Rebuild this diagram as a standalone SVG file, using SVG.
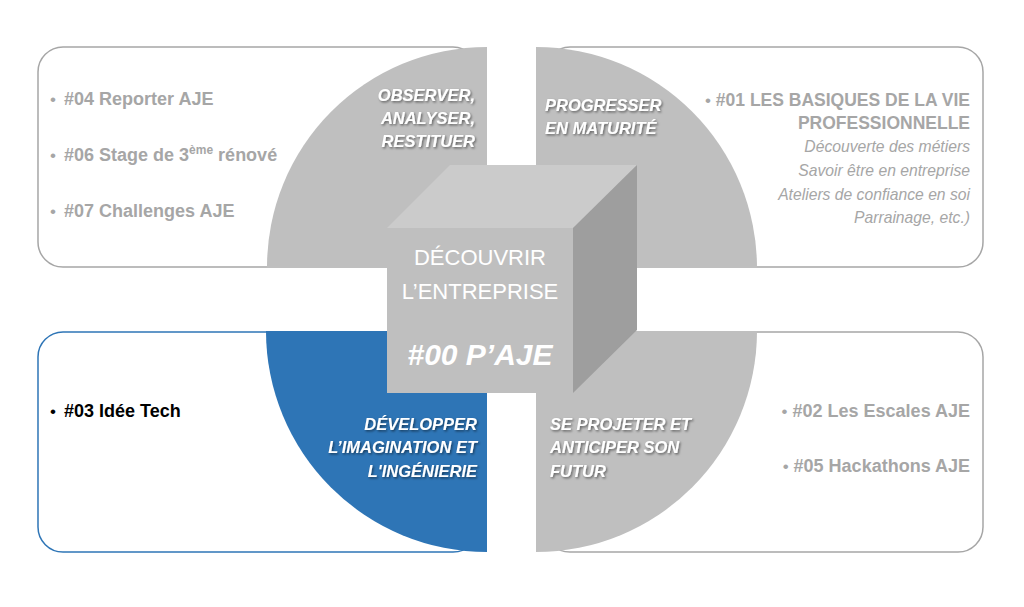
<svg xmlns="http://www.w3.org/2000/svg" width="1024" height="607" viewBox="0 0 1024 607">
<defs>
<filter id="sh" x="-10%" y="-30%" width="130%" height="180%">
<feDropShadow dx="1.2" dy="1.4" stdDeviation="0.8" flood-color="#000" flood-opacity="0.5"/>
</filter>
<style>
.box{fill:#fff;stroke:#A6A6A6;stroke-width:1.5}
.boxb{fill:#fff;stroke:#2E75B6;stroke-width:1.5}
.sec{fill:#BFBFBF}
.secb{fill:#2E75B6}
.item{font-family:"Liberation Sans",Arial,sans-serif;font-weight:bold;font-size:18px;fill:#A6A6A6}
.sub{font-family:"Liberation Sans",Arial,sans-serif;font-style:italic;font-size:15.7px;fill:#A6A6A6}
.lab{font-family:"Liberation Sans",Arial,sans-serif;font-weight:bold;font-style:italic;font-size:16.5px;fill:#fff;filter:url(#sh)}
.cube{font-family:"Liberation Sans",Arial,sans-serif;font-size:22px;fill:#fff;text-anchor:middle}
.bul{font-size:17px;font-weight:normal}
</style>
</defs>
<rect width="1024" height="607" fill="#fff"/>

<g id="box-tl"><rect class="box" x="38" y="47" width="440" height="220" rx="25"/></g>
<g id="box-tr"><rect class="box" x="545" y="47" width="438" height="220" rx="25"/></g>
<g id="box-bl"><rect class="boxb" x="38" y="332" width="440" height="220" rx="25"/></g>
<g id="box-br"><rect class="box" x="545" y="332" width="438" height="220" rx="25"/></g>

<g id="sector-tl">
<path class="sec" d="M487,268 L267,268 A220,220 0 0 1 487,47 Z"/>
<text class="lab" text-anchor="end"><tspan x="475" y="101">OBSERVER,</tspan><tspan x="475" y="124">ANALYSER,</tspan><tspan x="475" y="147">RESTITUER</tspan></text>
</g>
<g id="sector-tr">
<path class="sec" d="M536,268 L536,47 A221,221 0 0 1 757,268 Z"/>
<text class="lab"><tspan x="545" y="111">PROGRESSER</tspan><tspan x="545" y="134">EN MATURITÉ</tspan></text>
</g>
<g id="sector-bl">
<path class="secb" d="M487,331 L487,552 A221,221 0 0 1 266,331 Z"/>
<text class="lab" text-anchor="end"><tspan x="477" y="430">DÉVELOPPER</tspan><tspan x="477" y="453">L’IMAGINATION ET</tspan><tspan x="477" y="477">L'INGÉNIERIE</tspan></text>
</g>
<g id="sector-br">
<path class="sec" d="M536,331 L757,331 A221,221 0 0 1 536,552 Z"/>
<text class="lab"><tspan x="550" y="430">SE PROJETER ET</tspan><tspan x="550" y="453">ANTICIPER SON</tspan><tspan x="550" y="477">FUTUR</tspan></text>
</g>

<g id="cube">
<polygon points="387,228 450,165 637,165 573,228" fill="#CBCBCB"/>
<polygon points="573,228 637,165 637,330 573,393" fill="#9E9E9E"/>
<rect x="387" y="228" width="186" height="165" fill="#BFBFBF"/>
<text class="cube" x="480" y="265">DÉCOUVRIR</text>
<text class="cube" x="480" y="299">L’ENTREPRISE</text>
<text class="cube" x="480" y="365" style="font-weight:bold;font-style:italic;font-size:30px">#00 P’AJE</text>
</g>

<g id="list-tl">
<text class="item" x="50" y="105"><tspan class="bul">•</tspan><tspan x="64">#04 Reporter AJE</tspan></text>
<text class="item" x="50" y="161"><tspan class="bul">•</tspan><tspan x="64">#06 Stage de 3</tspan><tspan font-size="12" dy="-7">ème</tspan><tspan dy="7"> rénové</tspan></text>
<text class="item" x="50" y="217"><tspan class="bul">•</tspan><tspan x="64">#07 Challenges AJE</tspan></text>
</g>
<g id="list-tr">
<text class="item" x="970" y="106" text-anchor="end" style="font-size:17.5px"><tspan class="bul">•</tspan> #01 LES BASIQUES DE LA VIE</text>
<text class="item" x="970" y="129" text-anchor="end" style="font-size:17.5px">PROFESSIONNELLE</text>
<text class="sub" x="970" y="152" text-anchor="end">Découverte des métiers</text>
<text class="sub" x="970" y="176" text-anchor="end">Savoir être en entreprise</text>
<text class="sub" x="970" y="200" text-anchor="end">Ateliers de confiance en soi</text>
<text class="sub" x="970" y="223" text-anchor="end">Parrainage, etc.)</text>
</g>
<g id="list-bl">
<text class="item" x="50" y="417" style="fill:#000"><tspan class="bul">•</tspan><tspan x="64">#03 Idée Tech</tspan></text>
</g>
<g id="list-br">
<text class="item" x="970" y="417" text-anchor="end"><tspan class="bul">•</tspan> #02 Les Escales AJE</text>
<text class="item" x="970" y="472" text-anchor="end"><tspan class="bul">•</tspan> #05 Hackathons AJE</text>
</g>
<g id="connectors"/>
</svg>
